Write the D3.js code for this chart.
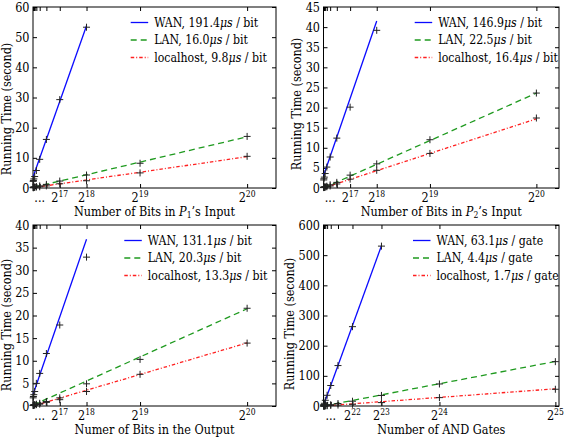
<!DOCTYPE html>
<html><head><meta charset="utf-8">
<script src="https://cdn.jsdelivr.net/npm/d3@7"></script>
<style>
body{margin:0;background:#fff}
svg{display:block}
text{font-family:"DejaVu Serif Condensed","DejaVu Serif",serif;font-stretch:condensed;fill:#000}
</style>
</head><body>
<svg id="c" width="566" height="437"></svg>
<script>
// ---------------- data ----------------
const seriesNames = ["WAN", "LAN", "localhost"];
const bitExps = [10,11,12,13,14,15,16,17,18,19,20];      // x = 2^exp bits
const bitWanExps = [10,11,12,13,14,15,16,17,18];
const gateExps = [15,16,17,18,19,20,21,22,23,24,25];     // x = 2^exp gates
const gateWanExps = [15,16,17,18,19,20,21,22,23];

// Panel 1: P1's input
const p1WAN   = [2.2, 2.5, 3.0, 3.8, 5.8, 9.5, 16.1, 29.3, 53.3];
const p1LAN   = [0.2, 0.25, 0.3, 0.35, 0.5, 0.7, 1.2, 2.3, 4.3, 8.2, 17.1];
const p1Local = [0.1, 0.12, 0.15, 0.2, 0.3, 0.4, 0.7, 1.4, 2.4, 5.0, 10.5];
const p1Slopes = [191.4, 16.0, 9.8];          // µs per bit
const p1Intercepts = [3.6, 0.2, 0.1];          // seconds
const p1YTicks = [0,10,20,30,40,50,60];

// Panel 2: P2's input
const p2WAN   = [2.0, 2.3, 2.7, 3.6, 5.2, 7.7, 12.4, 20.1, 39.2];
const p2LAN   = [0.15, 0.2, 0.25, 0.3, 0.45, 0.8, 1.4, 3.2, 6.0, 12.0, 23.6];
const p2Local = [0.1, 0.12, 0.15, 0.2, 0.3, 0.5, 1.0, 2.2, 4.4, 8.6, 17.4];
const p2Slopes = [146.9, 22.5, 16.4];
const p2Intercepts = [3.0, 0.0, 0.0];
const p2YTicks = [0,5,10,15,20,25,30,35,40,45];

// Panel 3: output bits
const p3WAN   = [1.8, 2.1, 2.5, 3.2, 5.0, 7.2, 11.6, 17.9, 32.9];
const p3LAN   = [0.15, 0.2, 0.25, 0.3, 0.4, 0.6, 1.0, 1.8, 4.9, 10.3, 21.6];
const p3Local = [0.1, 0.12, 0.15, 0.2, 0.3, 0.4, 0.8, 1.4, 3.2, 7.0, 13.9];
const p3Slopes = [131.1, 20.3, 13.3];
const p3Intercepts = [2.5, 0.2, 0.0];
const p3YTicks = [0,5,10,15,20,25,30,35,40];

// Panel 4: AND gates
const p4WAN   = [3, 5, 9, 19, 35.5, 68, 134, 263, 530];
const p4LAN   = [0.2, 0.35, 0.6, 1.1, 2.2, 4.4, 8.2, 15.8, 35.0, 73, 147];
const p4Local = [0.1, 0.15, 0.25, 0.45, 0.9, 1.8, 3.0, 5.6, 11.3, 27.8, 55.5];
const p4Slopes = [63.1, 4.4, 1.7];             // µs per gate
const p4Intercepts = [2.0, 0.0, 0.0];
const p4YTicks = [0,100,200,300,400,500,600];

// x tick labels (exponent text, "..." or blank) aligned with the exponent arrays
const bitTickLabels  = ["","","","","","...","","17","18","19","20"];
const gateTickLabels = ["","","","","","...","","22","23","24","25"];

const xTitles = [
  [{t:"Number of Bits in "},{t:"P",it:1},{t:"1",sub:1},{t:"\u2019s Input"}],
  [{t:"Number of Bits in "},{t:"P",it:1},{t:"2",sub:1},{t:"\u2019s Input"}],
  [{t:"Numer of Bits in the Output"}],
  [{t:"Number of AND Gates"}]
];
const yTitle = "Running Time (second)";
const units = ["bit","bit","bit","gate"];

// ---------------- layout ----------------
const colors = ["#0a0aff", "#1f9a1f", "#ff2020"];
const dashes = [null, "6,4", "3.5,2,1,2"];

const panels = [
  {L:33, R:276, T:7, B:188, xMax:1.19e6, yMax:60, exps:bitExps, wanExps:bitWanExps,
   vals:[p1WAN,p1LAN,p1Local], slopes:p1Slopes, ints:p1Intercepts, yTicks:p1YTicks,
   tickLabels:bitTickLabels, legendX:130.7, ylabX:11, ylabY:109},
  {L:323.5, R:559, T:7, B:188, xMax:1.16e6, yMax:45, exps:bitExps, wanExps:bitWanExps,
   vals:[p2WAN,p2LAN,p2Local], slopes:p2Slopes, ints:p2Intercepts, yTicks:p2YTicks,
   tickLabels:bitTickLabels, legendX:414.7, ylabX:300.5, ylabY:104},
  {L:33, R:276, T:225, B:406, xMax:1.19e6, yMax:40, exps:bitExps, wanExps:bitWanExps,
   vals:[p3WAN,p3LAN,p3Local], slopes:p3Slopes, ints:p3Intercepts, yTicks:p3YTicks,
   tickLabels:bitTickLabels, legendX:124.3, ylabX:11, ylabY:325},
  {L:323.5, R:559, T:225, B:406, xMax:34.08e6, yMax:600, exps:gateExps, wanExps:gateWanExps,
   vals:[p4WAN,p4LAN,p4Local], slopes:p4Slopes, ints:p4Intercepts, yTicks:p4YTicks,
   tickLabels:gateTickLabels, legendX:413, ylabX:294, ylabY:324}
];

const svg = d3.select("#c");
const FS = 12.2;

panels.forEach((p, pi) => {
  const x = d3.scaleLinear().domain([0, p.xMax]).range([p.L, p.R]);
  const y = d3.scaleLinear().domain([0, p.yMax]).range([p.B, p.T]);
  const g = svg.append("g");
  const xVals = p.exps.map(e => Math.pow(2, e));
  const tickLen = 4;

  // axes via d3 (inward ticks on all four sides)
  const bottom = g.append("g").attr("transform", `translate(0,${p.B})`)
    .call(d3.axisBottom(x).tickValues(xVals).tickSizeInner(-tickLen).tickSizeOuter(0).tickFormat(""));
  const top = g.append("g").attr("transform", `translate(0,${p.T})`)
    .call(d3.axisTop(x).tickValues(xVals).tickSizeInner(-tickLen).tickSizeOuter(0).tickFormat(""));
  const left = g.append("g").attr("transform", `translate(${p.L},0)`)
    .call(d3.axisLeft(y).tickValues(p.yTicks).tickSizeInner(-tickLen).tickSizeOuter(0).tickPadding(3.5).tickFormat(d3.format("d")));
  const right = g.append("g").attr("transform", `translate(${p.R},0)`)
    .call(d3.axisRight(y).tickValues(p.yTicks).tickSizeInner(-tickLen).tickSizeOuter(0).tickFormat(""));
  [bottom, top, left, right].forEach(a => {
    a.select(".domain").remove();
    a.selectAll("line").attr("stroke", "#000").attr("stroke-width", 1);
    a.attr("font-family", null);
  });
  left.selectAll("text").attr("font-size", 12.5).attr("fill", "#000");

  // bottom tick labels: 2^n with superscript, or "..."
  p.exps.forEach((e, i) => {
    const lab = p.tickLabels[i];
    if (!lab) return;
    const t = g.append("text").attr("x", x(Math.pow(2, e))).attr("y", p.B + 14)
      .attr("text-anchor", "middle").attr("font-size", 12.5);
    if (lab === "...") { t.text("..."); }
    else {
      t.append("tspan").text("2");
      t.append("tspan").attr("font-size", 8.5).attr("dy", -5.5).text(lab);
    }
  });

  // frame
  g.append("rect").attr("x", p.L).attr("y", p.T).attr("width", p.R - p.L).attr("height", p.B - p.T)
    .attr("fill", "none").attr("stroke", "#000").attr("stroke-width", 1);

  // fitted lines
  seriesNames.forEach((s, si) => {
    const exps = si === 0 ? p.wanExps : p.exps;
    const x0 = Math.pow(2, exps[0]), x1 = Math.pow(2, exps[exps.length - 1]);
    const f = xv => p.ints[si] + p.slopes[si] * 1e-6 * xv;
    g.append("line").attr("x1", x(x0)).attr("y1", y(f(x0))).attr("x2", x(x1)).attr("y2", y(f(x1)))
      .attr("stroke", colors[si]).attr("stroke-width", 1.3)
      .attr("stroke-dasharray", dashes[si]);
  });

  // data markers '+'
  seriesNames.forEach((s, si) => {
    const exps = si === 0 ? p.wanExps : p.exps;
    p.vals[si].forEach((v, i) => {
      const cx = x(Math.pow(2, exps[i])), cy = y(v);
      g.append("path").attr("d", `M${cx-3.5},${cy}H${cx+3.5}M${cx},${cy-3.5}V${cy+3.5}`)
        .attr("stroke", "#222").attr("stroke-width", 1).attr("fill", "none");
    });
  });

  // legend
  seriesNames.forEach((s, si) => {
    const ly = p.T + 15.5 + si * 17.5;
    g.append("line").attr("x1", p.legendX).attr("x2", p.legendX + 17.5).attr("y1", ly).attr("y2", ly)
      .attr("stroke", colors[si]).attr("stroke-width", 1.3).attr("stroke-dasharray", dashes[si]);
    const t = g.append("text").attr("x", p.legendX + 23.5).attr("y", ly + 4.3).attr("font-size", FS);
    t.append("tspan").text(`${s}, ${p.slopes[si].toFixed(1)}`);
    t.append("tspan").attr("font-style", "italic").text("\u03bcs");
    t.append("tspan").text(` / ${units[pi]}`);
  });

  // x title
  const xt = g.append("text").attr("x", (p.L + p.R) / 2).attr("y", p.B + 27.5)
    .attr("text-anchor", "middle").attr("font-size", 12.5);
  xTitles[pi].forEach(seg => {
    const ts = xt.append("tspan").text(seg.t);
    if (seg.it) ts.attr("font-style", "italic");
    if (seg.sub) ts.attr("font-size", 8.5).attr("dy", 2.5);
    else if (seg.t.startsWith("\u2019")) ts.attr("dy", -2.5);
  });

  // y title
  g.append("text").attr("transform", `translate(${p.ylabX},${p.ylabY}) rotate(-90)`)
    .attr("text-anchor", "middle").attr("font-size", 12.5).text(yTitle);
});
</script>
</body></html>
